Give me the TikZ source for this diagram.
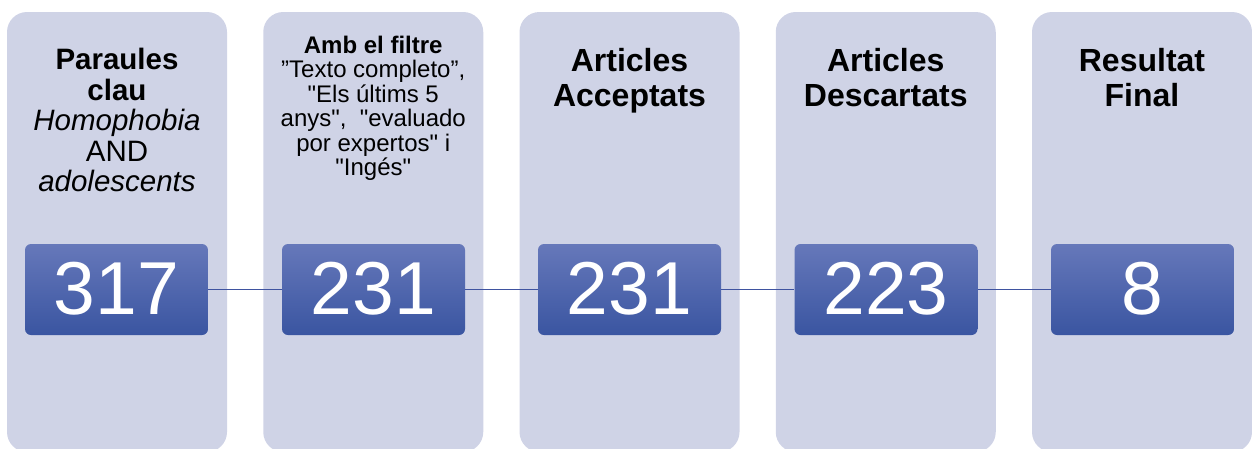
\documentclass[tikz,border=0pt]{standalone}
\usepackage{fontspec}
\setmainfont{Liberation Sans}[Ligatures=TeXOff]
\definecolor{panelfill}{HTML}{CFD3E6}
\definecolor{boxtop}{HTML}{6678BA}
\definecolor{boxbot}{HTML}{3A55A1}
\definecolor{linecol}{HTML}{3F53A0}
\tikzset{
  panelbox/.style={fill=panelfill, draw=none, rounded corners=20pt,
    minimum width=220pt, minimum height=440pt, inner sep=0pt},
  numbox/.style={top color=boxtop, bottom color=boxbot, draw=none,
    rounded corners=6pt, minimum width=183pt, minimum height=91pt,
    inner sep=0pt, text=white, font=\fontsize{75}{75}\selectfont,
    text height=54pt, text depth=5pt},
  titlebig/.style={anchor=north, align=center, inner sep=0pt, text=black,
    font=\fontsize{32}{35}\selectfont\bfseries},
  titlemid/.style={anchor=north, align=center, inner sep=0pt, text=black,
    font=\fontsize{29.5}{30.5}\selectfont},
  titlesmall/.style={anchor=north, align=center, inner sep=0pt, text=black,
    font=\fontsize{24}{24.4}\selectfont},
  conn/.style={draw=linecol, line width=1.1pt}
}
\begin{document}
\begin{tikzpicture}[x=1pt,y=-1pt]
\useasboundingbox (0,0) rectangle (1252,448);
% panels
\node[panelbox] (p1) at (117,232) {};
\node[panelbox] (p2) at (373.25,232) {};
\node[panelbox] (p3) at (629.5,232) {};
\node[panelbox] (p4) at (885.75,232) {};
\node[panelbox] (p5) at (1142,232) {};
% titles
\node[titlemid] (t1) at (117,48) {\textbf{Paraules}\\\textbf{clau}\\\textit{Homophobia}\\AND\\\textit{adolescents}};
\node[titlesmall] (t2) at (373.25,36) {\textbf{Amb el filtre}\\”Texto completo”,\\"Els últims 5\\anys",\ \ "evaluado\\por expertos" i\\"Ingés"};
\node[titlebig] (t3) at (629.5,48) {Articles\\Acceptats};
\node[titlebig] (t4) at (885.75,48) {Articles\\Descartats};
\node[titlebig] (t5) at (1142,48) {Resultat\\Final};
% number boxes
\node[numbox] (n1) at (116.5,289.5) {317};
\node[numbox] (n2) at (373.5,289.5) {231};
\node[numbox] (n3) at (629.5,289.5) {231};
\node[numbox] (n4) at (886,289.5) {223};
\node[numbox] (n5) at (1142.5,289.5) {8};
% connectors
\draw[conn] (n1.east) -- (n2.west);
\draw[conn] (n2.east) -- (n3.west);
\draw[conn] (n3.east) -- (n4.west);
\draw[conn] (n4.east) -- (n5.west);
\end{tikzpicture}
\end{document}
